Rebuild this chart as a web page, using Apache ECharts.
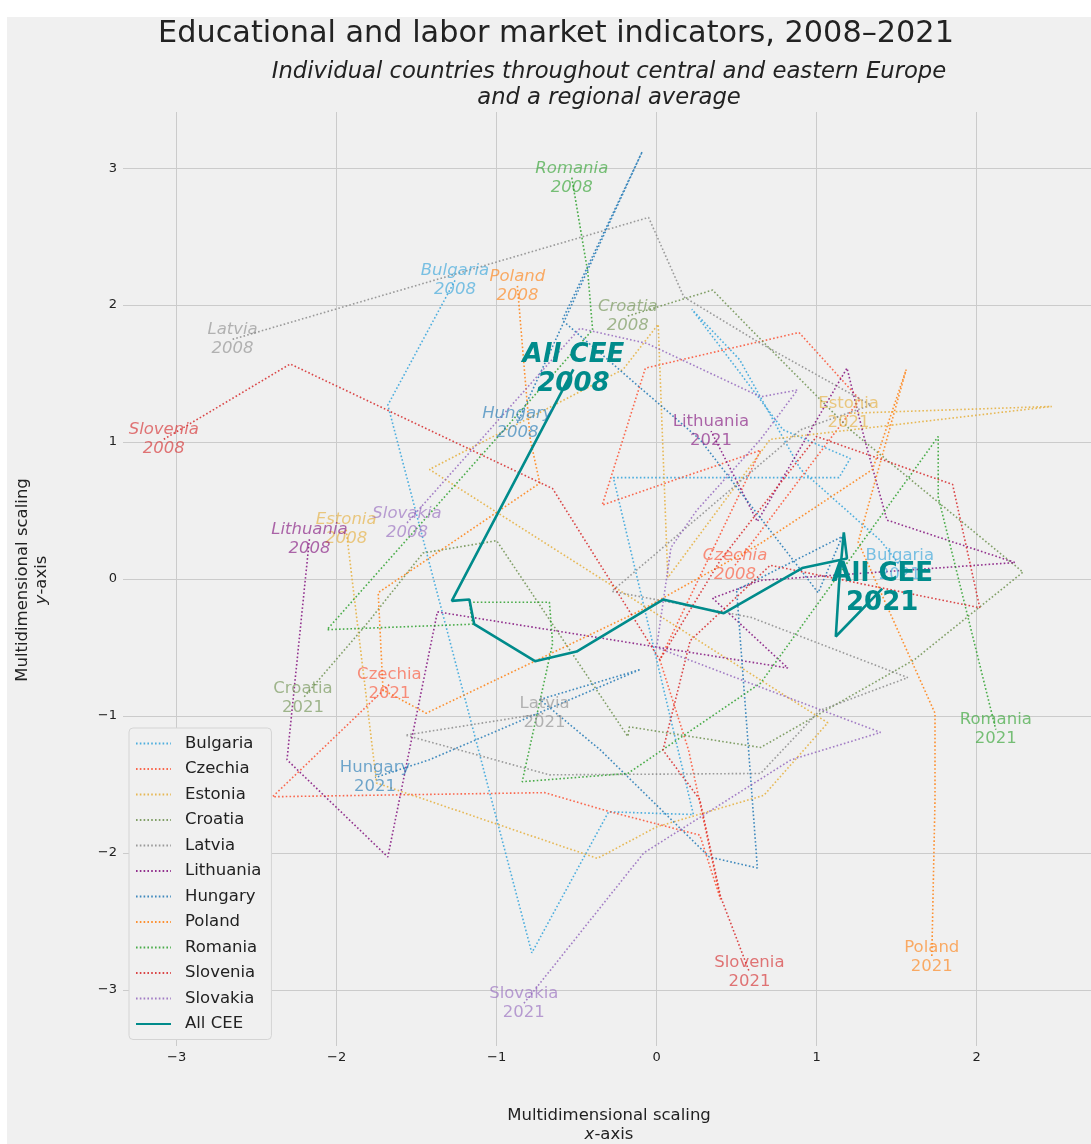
<!DOCTYPE html>
<html><head><meta charset="utf-8">
<script src="https://cdn.jsdelivr.net/npm/echarts@6/dist/echarts.min.js"></script>
<style>
html,body{margin:0;padding:0;background:#ffffff;}
#bg{position:absolute;left:7px;top:17px;width:1084px;height:1127px;background:#f0f0f0;}
#c{position:absolute;left:0;top:0;width:1091px;height:1144px;}
</style></head>
<body><div id="bg"></div><div id="c"></div>
<script>
// ---------------- data ----------------
const years = [2008,2009,2010,2011,2012,2013,2014,2015,2016,2017,2018,2019,2020,2021];
const countryNames = ['Bulgaria','Czechia','Estonia','Croatia','Latvia','Lithuania','Hungary','Poland','Romania','Slovenia','Slovakia'];
const xTicks = [-3,-2,-1,0,1,2];
const yTicks = [-3,-2,-1,0,1,2,3];

const bulgariaX  = [-1.26,-1.68,-0.78,-0.30,0.23,-0.27,1.14,1.21,0.79,0.22,0.52,0.90,1.40,1.52];
const bulgariaY  = [2.18,1.27,-2.73,-1.70,-1.72,0.74,0.74,0.88,1.09,1.97,1.60,0.80,0.28,0.10];
const czechiaX   = [0.49,1.27,0.89,-0.07,-0.34,0.65,0.02,0.20,0.40,0.27,-0.29,-0.70,-2.40,-1.67];
const czechiaY   = [0.10,1.31,1.80,1.54,0.54,0.94,-0.59,-1.25,-2.34,-1.87,-1.70,-1.56,-1.59,-0.77];
const estoniaX   = [-1.94,-1.89,-1.75,-0.37,0.00,0.67,1.07,-1.42,-0.21,0.01,0.07,0.71,2.47,1.20];
const estoniaY   = [0.36,-0.13,-1.49,-2.04,-1.81,-1.58,-1.05,0.80,1.53,1.86,0.01,1.02,1.26,1.21];
const croatiaX   = [-0.18,0.35,0.65,0.93,1.21,2.29,1.61,0.65,-0.17,-0.18,-1.00,-1.46,-1.82,-2.21];
const croatiaY   = [1.92,2.11,1.75,1.42,1.09,0.05,-0.59,-1.23,-1.08,-1.15,0.28,0.19,-0.34,-0.87];
const latviaX    = [-2.65,-0.05,0.17,0.65,1.34,0.90,-0.28,0.59,1.57,1.02,0.65,-0.67,-1.57,-0.70];
const latviaY    = [1.75,2.64,2.06,1.72,1.27,1.09,-0.09,-0.28,-0.72,-0.96,-1.42,-1.43,-1.14,-0.98];
const lithuaniaX = [-2.17,-2.31,-1.68,-1.37,0.82,0.35,0.65,2.24,1.44,1.30,1.19,0.94,0.63,0.34];
const lithuaniaY = [0.29,-1.32,-2.03,-0.24,-0.65,-0.14,-0.01,0.12,0.43,1.02,1.54,1.04,0.42,1.08];
const hungaryX   = [-0.87,-0.09,-0.59,0.27,1.01,1.16,0.50,0.63,0.33,-0.35,-0.73,-0.10,-1.42,-1.76];
const hungaryY   = [1.14,3.12,1.89,1.02,-0.10,0.31,-0.08,-2.11,-2.03,-1.25,-0.88,-0.66,-1.32,-1.45];
const polandX    = [-0.87,-0.79,-0.73,-1.74,-1.71,-1.44,-0.10,0.65,1.35,1.56,1.26,1.74,1.74,1.72];
const polandY    = [2.14,1.02,0.70,-0.10,-0.81,-0.98,-0.23,0.26,0.80,1.53,0.27,-0.98,-1.61,-2.76];
const romaniaX   = [-0.53,-0.43,-0.40,-2.06,-1.15,-1.17,-0.67,-0.65,-0.84,-0.18,0.65,1.76,1.76,2.12];
const romaniaY   = [2.93,2.24,1.82,-0.37,-0.33,-0.17,-0.17,-0.47,-1.48,-1.42,-0.76,1.04,0.60,-1.10];
const sloveniaX  = [-3.08,-2.29,-0.65,0.02,0.40,1.00,1.85,2.02,0.71,0.21,0.04,0.27,0.40,0.58];
const sloveniaY  = [1.02,1.57,0.66,-0.59,0.14,1.04,0.69,-0.21,0.10,-0.45,-1.25,-1.61,-2.32,-2.87];
const slovakiaX  = [-1.56,-0.48,-0.06,0.65,0.88,0.65,0.25,0.09,0.00,0.65,1.40,0.84,-0.08,-0.83];
const slovakiaY  = [0.41,1.83,1.72,1.33,1.38,1.02,0.50,0.23,-0.50,-0.79,-1.12,-1.32,-2.00,-3.10];
const allCeeX    = [-0.52,-1.28,-1.17,-1.14,-0.76,-0.50,0.04,0.42,0.91,1.19,1.17,1.14,1.12,1.41];
const allCeeY    = [1.53,-0.16,-0.15,-0.33,-0.60,-0.53,-0.15,-0.25,0.08,0.15,0.34,-0.04,-0.42,-0.07];

// ---------------- styling ----------------
const countryX = [bulgariaX,czechiaX,estoniaX,croatiaX,latviaX,lithuaniaX,hungaryX,polandX,romaniaX,sloveniaX,slovakiaX];
const countryY = [bulgariaY,czechiaY,estoniaY,croatiaY,latviaY,lithuaniaY,hungaryY,polandY,romaniaY,sloveniaY,slovakiaY];
const colors = ['#30a2da','#fc4f30','#e5ae38','#6d904f','#8b8b8b','#810f7c','#1f77b4','#ff7f0e','#2ca02c','#d62728','#9467bd'];
const ceeColor = '#008b8b';
const FONT = 'DejaVu Sans';
const CLEAR = 'rgba(0,0,0,0)';

function rgba(hex, a){
  const n = parseInt(hex.slice(1),16);
  return 'rgba(' + ((n>>16)&255) + ',' + ((n>>8)&255) + ',' + (n&255) + ',' + a + ')';
}
function minus(v){ return String(v).replace('-', '\u2212'); }

const series = [];
countryNames.forEach((name, k) => {
  const pts = years.map((y, i) => [countryX[k][i], countryY[k][i]]);
  series.push({
    name: name, type: 'line', data: pts, symbol: 'none', showSymbol: false,
    silent: true, animation: false, z: 2,
    itemStyle: {color: colors[k]},
    lineStyle: {color: colors[k], width: 1.6, type: [1.6, 2.2], opacity: 0.85}
  });
});
series.push({
  name: 'All CEE', type: 'line', symbol: 'none', showSymbol: false, silent: true, animation: false, z: 4,
  data: years.map((y, i) => [allCeeX[i], allCeeY[i]]),
  itemStyle: {color: ceeColor},
  lineStyle: {color: ceeColor, width: 2.6}
});
// endpoint annotations
countryNames.forEach((name, k) => {
  const n = years.length - 1;
  series.push({
    name: name + ' labels', type: 'scatter', symbolSize: 1, silent: true, animation: false, z: 6,
    itemStyle: {color: CLEAR},
    label: {show: true, position: 'inside', fontFamily: FONT, fontSize: 16.5, lineHeight: 19,
            color: rgba(colors[k], 0.78), align: 'center', verticalAlign: 'middle', textBorderWidth: 0},
    data: [
      {value: [countryX[k][0], countryY[k][0]], label: {formatter: name + '\n' + years[0], fontStyle: 'italic'}},
      {value: [countryX[k][n], countryY[k][n]], label: {formatter: name + '\n' + years[n]}}
    ]
  });
});
series.push({
  name: 'All CEE labels', type: 'scatter', symbolSize: 1, silent: true, animation: false, z: 7,
  itemStyle: {color: CLEAR},
  label: {show: true, position: 'inside', fontFamily: FONT, fontSize: 26, lineHeight: 29, fontWeight: 'bold',
          color: ceeColor, opacity: 1, textBorderWidth: 0, align: 'center', verticalAlign: 'middle'},
  data: [
    {value: [allCeeX[0], allCeeY[0]], label: {formatter: 'All CEE\n' + years[0], fontStyle: 'italic'}},
    {value: [allCeeX[13], allCeeY[13]], label: {formatter: 'All CEE\n' + years[13]}}
  ]
});

const chart = echarts.init(document.getElementById('c'), null, {renderer: 'canvas'});
chart.setOption({
  animation: false,
  textStyle: {fontFamily: FONT},
  grid: {left: 123, top: 112, width: 968, height: 934, show: false, containLabel: false},
  xAxis: {
    type: 'value', min: -3.335, max: 2.715,
    axisLine: {show: false}, axisTick: {show: false, customValues: xTicks},
    axisLabel: {customValues: xTicks, formatter: minus, fontSize: 13, color: '#222', margin: 5, fontFamily: FONT},
    splitLine: {show: true, lineStyle: {color: '#cbcbcb', width: 1}}
  },
  yAxis: {
    type: 'value', min: -3.41, max: 3.41,
    axisLine: {show: false}, axisTick: {show: false, customValues: yTicks},
    axisLabel: {customValues: yTicks, formatter: minus, fontSize: 13, color: '#222', margin: 6, fontFamily: FONT},
    splitLine: {show: true, lineStyle: {color: '#cbcbcb', width: 1}}
  },
  legend: {
    data: countryNames.concat(['All CEE']),
    orient: 'vertical', left: 129, top: 728,
    itemWidth: 35, itemHeight: 14, itemGap: 6.5,
    padding: [6, 10, 6, 6],
    backgroundColor: '#f0f0f0', borderColor: '#d4d4d4', borderWidth: 1, borderRadius: 4,
    itemStyle: {opacity: 0},
    textStyle: {fontFamily: FONT, fontSize: 16.5, color: '#222', lineHeight: 19, padding: [0, 0, 0, 9]},
    selectedMode: false
  },
  graphic: [
    {type: 'text', z: 10, position: [556, 34],
     style: {text: 'Educational and labor market indicators, 2008\u20132021', font: '30.3px "DejaVu Sans"',
             fill: '#222', textAlign: 'center', textVerticalAlign: 'middle'}},
    {type: 'text', z: 10, position: [609, 85],
     style: {text: 'Individual countries throughout central and eastern Europe\nand a regional average',
             font: 'italic 22.7px "DejaVu Sans"', lineHeight: 25.5, fill: '#222', textAlign: 'center', textVerticalAlign: 'middle'}},
    {type: 'text', z: 10, position: [609, 1125],
     style: {text: 'Multidimensional scaling\n{i|x}-axis', font: '16.5px "DejaVu Sans"', lineHeight: 18.5, fill: '#222',
             textAlign: 'center', textVerticalAlign: 'middle',
             rich: {i: {fontStyle: 'italic', fontSize: 16.5, fontFamily: FONT, fill: '#222'}}}},
    {type: 'text', z: 10, position: [32, 580], rotation: Math.PI / 2,
     style: {text: 'Multidimensional scaling\n{i|y}-axis', font: '16.5px "DejaVu Sans"', lineHeight: 19, fill: '#222',
             textAlign: 'center', textVerticalAlign: 'middle',
             rich: {i: {fontStyle: 'italic', fontSize: 16.5, fontFamily: FONT, fill: '#222'}}}}
  ],
  series: series
});
</script>
</body></html>
